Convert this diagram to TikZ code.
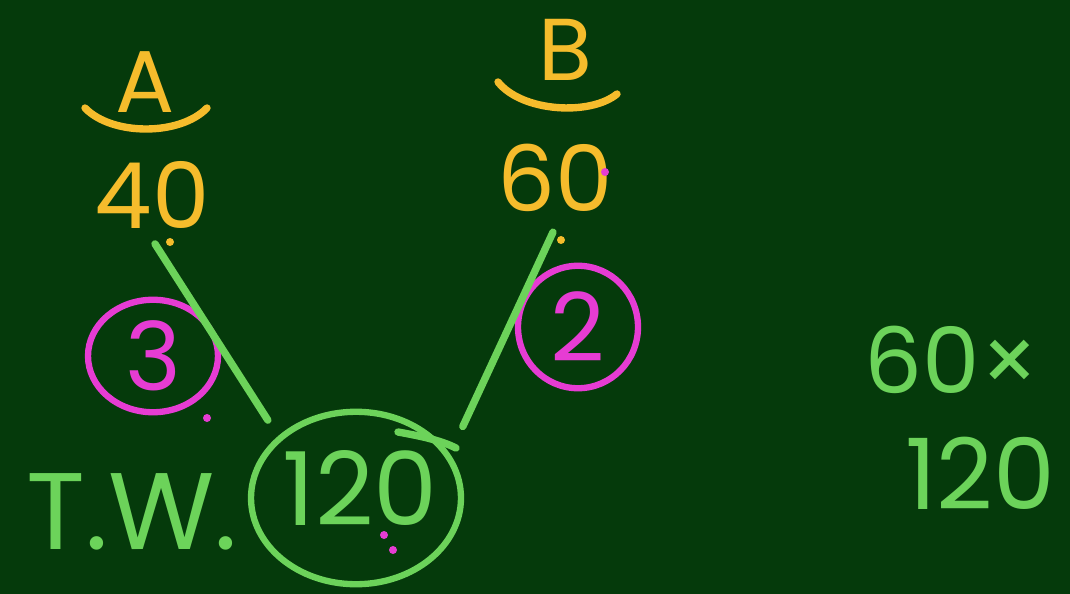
\documentclass[tikz,border=0pt]{standalone}
\usepackage{fontspec}
\setmainfont{Poppins}
\usetikzlibrary{shapes.geometric}
\definecolor{colorboard}{HTML}{053A0B}
\definecolor{colorchalk}{HTML}{6CD35A}
\definecolor{coloryellow}{HTML}{F5BC2C}
\definecolor{colorpink}{HTML}{E63CD3}

\begin{document}
\begin{tikzpicture}[
    x=0.02cm, y=-0.02cm,
    % handwritten look on a board
    scrawl/.style={
        font=\fontsize{#1}{#1}\selectfont,
        inner sep=0pt
    },
    yellowtext/.style={scrawl=#1, text=coloryellow},
    greentext/.style={scrawl=#1, text=colorchalk},
    pinktext/.style={scrawl=#1, text=colorpink},
    ring/.style={
        ellipse,
        draw=#1,
        line width=3.6pt,
        inner sep=0pt
    },
    stroke/.style={
        draw=#1,
        line width=4.2pt,
        line cap=round
    },
    speck/.style={fill=#1}
]

% ==============================
% Board
% ==============================
\fill[colorboard] (0,0) rectangle (1070,594);
\useasboundingbox (0,0) rectangle (1070,594);

% ==============================
% Top row: A and B with their figures
% ==============================
\node[yellowtext=50pt] (lblA) at (145,82) {A};
\node[yellowtext=50pt] (lblB) at (565,50) {B};
\node[yellowtext=52pt] (valA) at (152,195) {40};
\node[yellowtext=52pt] (valB) at (555,178) {60};

% smiles under the letters
\draw[stroke=coloryellow] (85,108) .. controls (112,136) and (180,136) .. (207,108);
\draw[stroke=coloryellow] (498,82) .. controls (522,112) and (590,116) .. (617,94);

% ==============================
% Bottom: total work
% ==============================
\node[greentext=62pt] (tw) at (132,512) {T.W.};
\node[ring=colorchalk, minimum width=4.2cm, minimum height=3.45cm] (total) at (356,498) {};
\node[greentext=58pt] (totalval) at (360,488) {120};
\draw[stroke=colorchalk] (398,432) .. controls (420,436) and (440,440) .. (456,448);

% ==============================
% Efficiencies
% ==============================
\node[ring=colorpink, minimum width=2.6cm, minimum height=2.25cm] (effA) at (153,356) {};
\node[pinktext=54pt] at (effA) {3};
\node[ring=colorpink, minimum width=2.4cm, minimum height=2.45cm] (effB) at (578,327) {};
\node[pinktext=54pt] at (effB) {2};

% ==============================
% Side working
% ==============================
\node[greentext=52pt] (lcm) at (952,360) {60×};
\node[greentext=56pt] (lcmval) at (980,473) {120};

% ==============================
% Links
% ==============================
\draw[stroke=colorchalk] ([shift={(3,15)}]valA.south) -- ([shift={(-15,-12)}]total.138);
\draw[stroke=colorchalk] ([shift={(-2,20)}]valB.south) -- ([shift={(23,-15)}]total.34);

% specks left on the board
\fill[speck=coloryellow] (170,242) circle (4);
\fill[speck=coloryellow] (561,240) circle (4);
\fill[speck=colorpink] (605,172) circle (4);
\fill[speck=colorpink] (207,418) circle (4);
\fill[speck=colorpink] (384,535) circle (4);
\fill[speck=colorpink] (393,550) circle (4);

\end{tikzpicture}
\end{document}
